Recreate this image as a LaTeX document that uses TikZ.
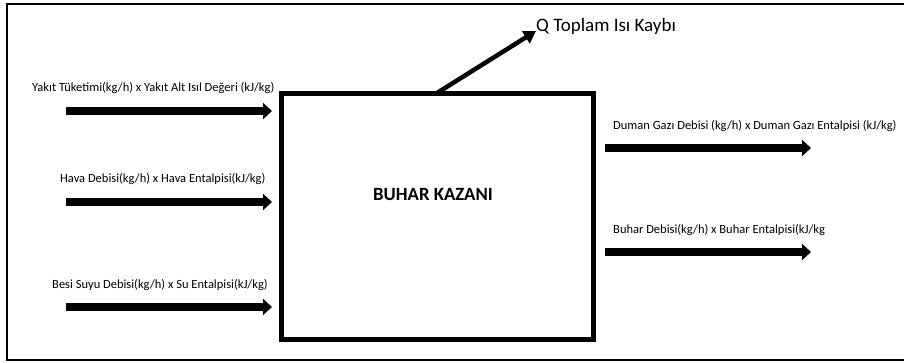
\documentclass[tikz,border=0pt]{standalone}
\usepackage{fontspec}
\setmainfont{Carlito}
\usetikzlibrary{arrows.meta}

\tikzset{
  flow/.style={line width=8pt, -{Triangle[length=9pt, width=16pt]}, black},
  loss/.style={line width=4.5pt, -{Triangle[length=12pt, width=14pt]}, black},
  lbl/.style={anchor=base west, inner sep=0pt, font=\fontsize{12.5}{14}\selectfont},
  boiler/.style={draw, line width=5pt, minimum width=312pt, minimum height=246pt, inner sep=0pt},
}

\begin{document}
\begin{tikzpicture}[x=1pt, y=-1pt]
  \useasboundingbox (0,0) rectangle (904,362);
  % outer frame
  \draw[line width=2pt] (7,4) rectangle (910,360);

  % boiler body
  \node[boiler] (kazan) at (437.75,216.5) {};
  \node[font=\fontsize{18.7}{22}\selectfont\bfseries] (baslik) at (433,195) {BUHAR KAZANI};

  % inputs
  \coordinate (y1) at (66,111);  \coordinate (y2) at (272,111);
  \coordinate (h1) at (66,202);  \coordinate (h2) at (272,202);
  \coordinate (b1) at (66,307);  \coordinate (b2) at (272,307);
  \draw[flow] (y1) -- (y2);
  \draw[flow] (h1) -- (h2);
  \draw[flow] (b1) -- (b2);
  \node[lbl] (ly) at (32,91) {Yakıt Tüketimi(kg/h) x Yakıt Alt Isıl Değeri (kJ/kg)};
  \node[lbl] (lh) at (60,182) {Hava Debisi(kg/h) x Hava Entalpisi(kJ/kg)};
  \node[lbl] (lb) at (52,288) {Besi Suyu Debisi(kg/h) x Su Entalpisi(kJ/kg)};

  % outputs
  \coordinate (d1) at (605,148); \coordinate (d2) at (811,148);
  \coordinate (s1) at (605,252); \coordinate (s2) at (811,252);
  \draw[flow] (d1) -- (d2);
  \draw[flow] (s1) -- (s2);
  \node[lbl] (ld) at (613,129) {Duman Gazı Debisi (kg/h) x Duman Gazı Entalpisi (kJ/kg)};
  \node[lbl] (ls) at (613,233) {Buhar Debisi(kg/h) x Buhar Entalpisi(kJ/kg};

  % heat loss
  \coordinate (q0) at (437,93);
  \coordinate (q1) at (536,31);
  \draw[loss] (q0) -- (q1);
  \node[lbl, font=\fontsize{19}{22}\selectfont] (lq) at (536,31) {Q Toplam Isı Kaybı};
\end{tikzpicture}
\end{document}
